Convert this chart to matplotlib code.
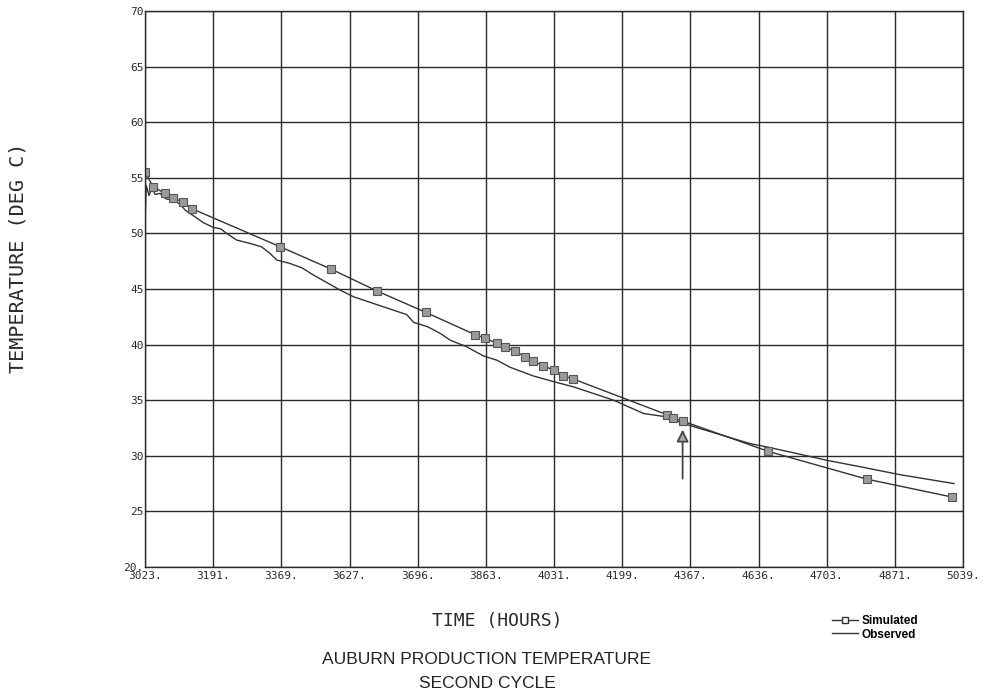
import matplotlib.pyplot as plt
from matplotlib.lines import Line2D

# simulated temperature (hours, deg C) - marker points
sim_time = [3023, 3043, 3072, 3093, 3117, 3140, 3356, 3481, 3596, 3715,
            3836, 3861, 3890, 3910, 3935, 3960, 3980, 4005, 4030, 4054, 4079,
            4309, 4325, 4350, 4559, 4802, 5011]
sim_temp = [55.5, 54.2, 53.6, 53.2, 52.8, 52.2, 48.8, 46.8, 44.8, 42.9,
            40.9, 40.6, 40.1, 39.8, 39.4, 38.9, 38.5, 38.1, 37.7, 37.2, 36.9,
            33.7, 33.4, 33.1, 30.4, 27.9, 26.3]

# observed temperature
obs_time = [3023, 3026, 3033, 3040, 3048, 3060, 3075, 3093, 3110, 3122, 3146,
            3167, 3191, 3210, 3224, 3249, 3282, 3310, 3331, 3348, 3380, 3410,
            3438, 3470, 3504, 3537, 3586, 3635, 3668, 3685, 3720, 3751, 3775,
            3816, 3857, 3890, 3923, 3980, 4030, 4079, 4112, 4178, 4252, 4309,
            4350, 4432, 4514, 4555, 4630, 4703, 4802, 4884, 5017]
obs_temp = [51.0, 54.3, 53.4, 54.1, 53.5, 53.6, 53.1, 53.0, 52.6, 52.1, 51.5,
            50.96, 50.55, 50.4, 50.0, 49.4, 49.1, 48.8, 48.2, 47.6, 47.3, 46.9,
            46.26, 45.6, 44.9, 44.3, 43.7, 43.1, 42.7, 42.0, 41.6, 41.0, 40.4,
            39.8, 38.98, 38.6, 37.96, 37.18, 36.67, 36.2, 35.8, 35.0, 33.8, 33.5,
            32.9, 32.0, 31.1, 30.8, 30.2, 29.6, 28.9, 28.3, 27.5]

tick_pos = [3023, 3191, 3359, 3527, 3695, 3863, 4031, 4199, 4367, 4535,
            4703, 4871, 5039]
tick_lbl = ["3023.", "3191.", "3369.", "3627.", "3696.", "3863.", "4031.",
            "4199.", "4367.", "4636.", "4703.", "4871.", "5039."]
ytick_pos = [20, 25, 30, 35, 40, 45, 50, 55, 60, 65, 70]
ytick_lbl = ["20.", "25", "30", "35", "40", "45", "50", "55", "60", "65", "70"]

arrow_x = 4348
arrow_y = [27.7, 32.6]

ink = '#333333'
mono = 'DejaVu Sans Mono'

fig = plt.figure(figsize=(9.89, 6.95), dpi=100)
ax = fig.add_axes([145/989, 1-567/695, 818/989, 556/695])

ax.plot(obs_time, obs_temp, color=ink, lw=1.0)
ax.plot(sim_time, sim_temp, color=ink, lw=1.0, marker='s', markersize=5.5,
        markerfacecolor='#9a9a9a', markeredgecolor='#555555', markeredgewidth=0.8)

ax.annotate('', xy=(arrow_x, arrow_y[1]), xytext=(arrow_x, arrow_y[0]),
            arrowprops=dict(arrowstyle='-|>', edgecolor='#444444', lw=1.3,
                            mutation_scale=18, facecolor='#aaaaaa'))

ax.set_xlim(3023, 5039)
ax.set_ylim(20, 70)
ax.set_xticks(tick_pos)
ax.set_xticklabels(tick_lbl, fontsize=8, family=mono, color='#2a2a2a')
ax.set_yticks(ytick_pos)
ax.set_yticklabels(ytick_lbl, fontsize=8, family=mono, color='#2a2a2a')
ax.tick_params(length=0, pad=3)
ax.tick_params(axis='y', pad=1)
ax.grid(True, color='#2a2a2a', lw=1.0)
for s in ax.spines.values():
    s.set_color('#2a2a2a')
    s.set_linewidth(1.0)

fig.text(497/989, 1-621/695, 'TIME (HOURS)', family=mono, fontsize=13,
         color='#2a2a2a', ha='center', va='center')
fig.text(18/989, 1-258/695, 'TEMPERATURE (DEG C)', family=mono, fontsize=14.5,
         color='#2a2a2a', ha='center', va='center', rotation=90)
fig.text(487/989, 1-660/695, 'AUBURN PRODUCTION TEMPERATURE',
         family='Liberation Sans', fontsize=12.5, color='#222222',
         ha='center', va='center')
fig.text(487/989, 1-683/695, 'SECOND CYCLE', family='Liberation Sans',
         fontsize=12.5, color='#222222', ha='center', va='center')

handles = [Line2D([], [], color=ink, lw=1.0, marker='s', markersize=4,
                  markerfacecolor='white', markeredgecolor=ink),
           Line2D([], [], color=ink, lw=1.0)]
fig.legend(handles, ['Simulated', 'Observed'], loc='center left',
           bbox_to_anchor=(826/989, 1-628/695), frameon=False,
           prop={'family': 'Liberation Sans', 'weight': 'bold', 'size': 8.5},
           handlelength=2.2, handletextpad=0.3, labelspacing=0.1,
           borderpad=0)

fig.savefig('out.png', dpi=100)
